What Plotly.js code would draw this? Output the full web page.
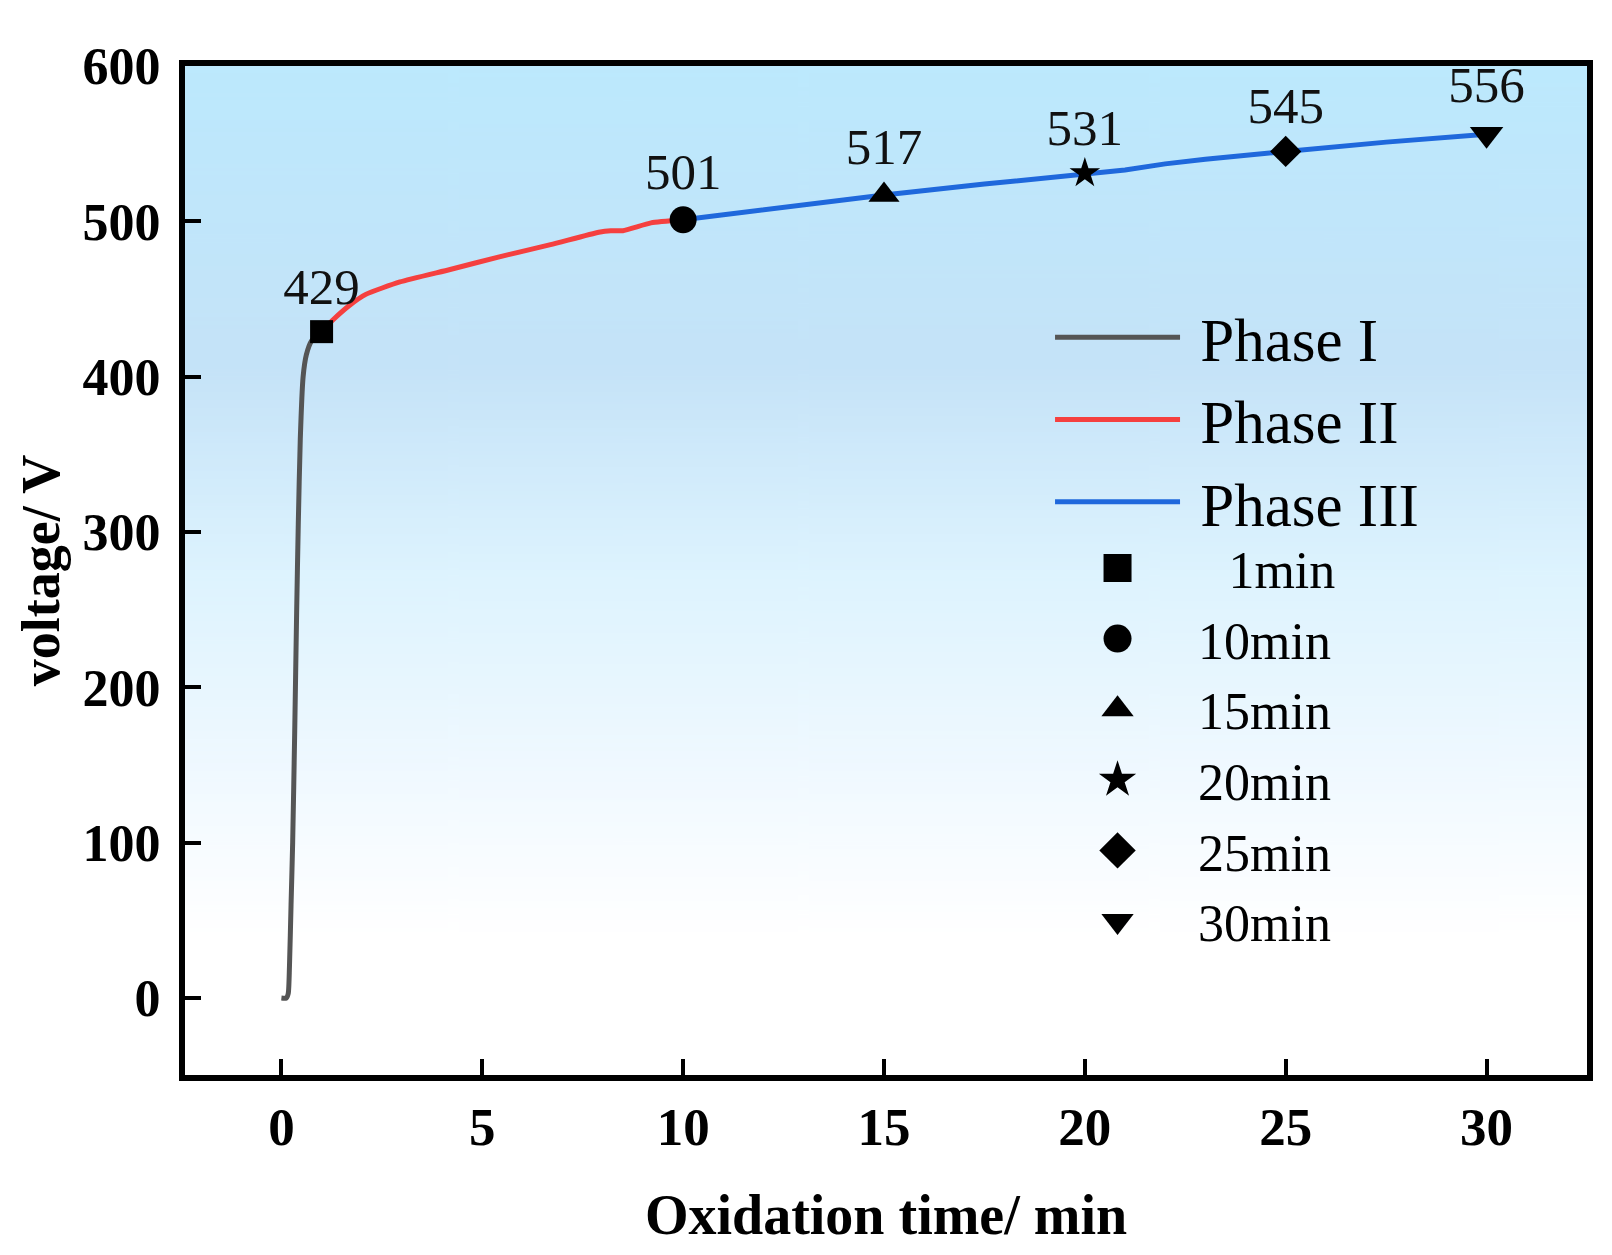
<!DOCTYPE html>
<html>
<head>
<meta charset="utf-8">
<script src="https://cdn.plot.ly/plotly-3.0.1.min.js"></script>
<style>
  html, body { margin: 0; padding: 0; background: #fff; }
  #chart { width: 1612px; height: 1255px; }
</style>
</head>
<body>
<div id="chart"></div>
<script>
// Phase curves (time in min, voltage in V)
const phase1_t = [0, 0.12, 0.17, 0.2, 0.24, 0.28, 0.33, 0.38, 0.42, 0.47, 0.54, 0.62, 0.75, 1];
const phase1_v = [0, 0, 3, 20, 60, 100, 170, 250, 305, 360, 400, 414, 423, 429];

const phase2_t = [1, 1.3, 1.7, 2.1, 2.95, 4.2, 5.4, 6.7, 7.9, 8.2, 8.5, 9.2, 10];
const phase2_v = [429, 437, 446, 453, 461, 469, 477, 485, 493, 494, 494, 499, 501];

const phase3_t = [10, 12.5, 15, 17.5, 20, 21, 22, 23, 25, 27.5, 30];
const phase3_v = [501, 509, 517, 524, 531, 533, 537, 540, 545, 551, 556];

// labelled sampling points
const mark_t = [1, 10, 15, 20, 25, 30];
const mark_v = [429, 501, 517, 531, 545, 556];
const mark_names = ['\u00a0\u00a0\u00a0\u200a1min', '\u00a010min', '\u00a015min', '\u00a020min', '\u00a025min', '\u00a030min'];
const mark_symbols = ['square', 'circle', 'triangle-up', 'star', 'diamond', 'triangle-down'];
const mark_sizes = [23, 27, 27, 23, 24, 29];

const serif = '"Liberation Serif", "Times New Roman", serif';

// vertical blue-to-white backdrop for the plot area
function backdrop() {
  const c = document.createElement('canvas');
  c.width = 8; c.height = 512;
  const g = c.getContext('2d');
  const grad = g.createLinearGradient(0, 0, 0, 512);
  grad.addColorStop(0, '#bce9fd');
  grad.addColorStop(0.3, '#c5e3f8');
  grad.addColorStop(0.5, '#ddf3fe');
  grad.addColorStop(0.7, '#f0f9ff');
  grad.addColorStop(0.86, '#ffffff');
  grad.addColorStop(1, '#ffffff');
  g.fillStyle = grad;
  g.fillRect(0, 0, 8, 512);
  return c.toDataURL();
}

const traces = [
  {x: phase1_t, y: phase1_v, name: '\u00a0Phase I', mode: 'lines', legend: 'legend',
   line: {color: '#555555', width: 5, shape: 'spline', smoothing: 0.6}},
  {x: phase2_t, y: phase2_v, name: '\u00a0Phase II', mode: 'lines', legend: 'legend',
   line: {color: '#f5403f', width: 5, shape: 'spline', smoothing: 0.5}},
  {x: phase3_t, y: phase3_v, name: '\u00a0Phase III', mode: 'lines', legend: 'legend',
   line: {color: '#1f68dc', width: 5}}
];

mark_t.forEach((t, i) => {
  traces.push({
    x: [t], y: [mark_v[i]], text: [String(mark_v[i])],
    name: mark_names[i], mode: 'markers+text', legend: 'legend2',
    textposition: 'top center',
    textfont: {family: serif, size: 51, color: '#111'},
    marker: {symbol: mark_symbols[i], size: mark_sizes[i], color: '#000'}
  });
});

const layout = {
  width: 1612, height: 1255,
  margin: {l: 185, r: 25, t: 66, b: 180},
  paper_bgcolor: '#ffffff',
  plot_bgcolor: 'rgba(0,0,0,0)',
  font: {family: serif, color: '#000'},
  images: [{source: backdrop(), xref: 'paper', yref: 'paper', x: 0, y: 1,
            sizex: 1, sizey: 1, sizing: 'stretch', layer: 'below'}],
  xaxis: {
    range: [-2.4, 32.5], tickvals: [0, 5, 10, 15, 20, 25, 30],
    showgrid: false, zeroline: false,
    showline: true, mirror: true, linecolor: '#000', linewidth: 6,
    ticks: 'inside', ticklen: 16, tickwidth: 4, tickcolor: '#000',
    tickfont: {family: serif, size: 53, weight: 'bold'},
    title: {text: 'Oxidation time/ min', standoff: 42,
            font: {family: serif, size: 56, weight: 'bold'}}
  },
  yaxis: {
    range: [-49.5, 600], tickvals: [0, 100, 200, 300, 400, 500, 600],
    showgrid: false, zeroline: false,
    showline: true, mirror: true, linecolor: '#000', linewidth: 6,
    ticks: 'inside', ticklen: 16, tickwidth: 4, tickcolor: '#000',
    tickfont: {family: serif, size: 52, weight: 'bold'},
    ticklabelstandoff: 8,
    title: {text: 'voltage/ V', standoff: 8,
            font: {family: serif, size: 54, weight: 'bold'}}
  },
  legend: {
    x: 0.617, y: 0.777, xanchor: 'left', yanchor: 'top',
    bgcolor: 'rgba(0,0,0,0)', borderwidth: 0, itemwidth: 125,
    font: {family: serif, size: 61}, tracegroupgap: 0
  },
  legend2: {
    x: 0.617, y: 0.5424, xanchor: 'left', yanchor: 'top',
    bgcolor: 'rgba(0,0,0,0)', borderwidth: 0, itemwidth: 125,
    font: {family: serif, size: 52}, tracegroupgap: 0
  },
  showlegend: true
};

Plotly.newPlot('chart', traces, layout, {displayModeBar: false, staticPlot: true}).then(gd => {
  // legend symbols are capped at 16px by plotly; enlarge them to match the figure
  gd.querySelectorAll('.legendpoints path.scatterpts').forEach(p => {
    const tr = p.getAttribute('transform') || '';
    p.setAttribute('transform', tr + ' scale(1.75)');
  });
});
</script>
</body>
</html>
